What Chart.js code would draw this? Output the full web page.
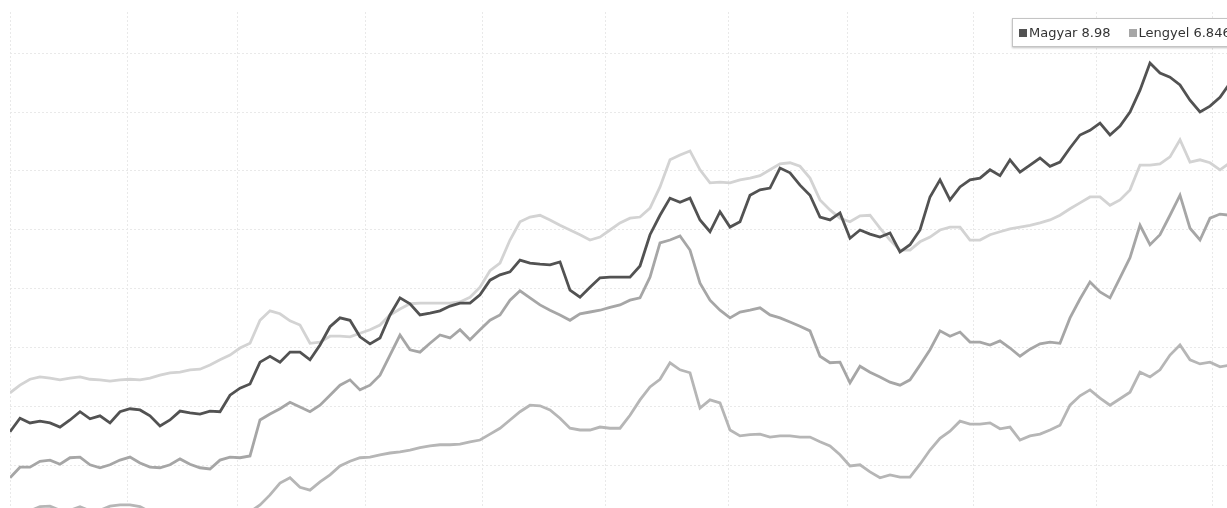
<!DOCTYPE html>
<html>
<head>
<meta charset="utf-8">
<script src="https://cdn.jsdelivr.net/npm/chart.js@4"></script>
<style>
  html, body { margin: 0; padding: 0; background: #fff; overflow: hidden; width: 1227px; height: 508px; }
  #wrap { position: absolute; left: 0; top: 0; width: 1240px; height: 560px; }
  #legend {
    position: absolute; left: 1012px; top: 18px; height: 27px;
    border: 1px solid #c4c4c4; background: #fff; white-space: nowrap;
    box-shadow: 0 1px 2px rgba(0,0,0,0.25);
    font: 13px "DejaVu Sans", sans-serif; color: #333; line-height: 27px;
    padding: 0 6px;
  }
  #legend span.item { margin-right: 18px; }
  #legend i { display: inline-block; width: 8px; height: 8px; margin-right: 2px; vertical-align: 0px; }
</style>
</head>
<body>
<div id="wrap"><canvas id="myChart" width="1240" height="560"></canvas></div>
<div id="legend"></div>
<script>
/**
 *  ! Data
 * **/
const seriesNames = ["Magyar", "Lengyel", "", ""];
const legendValues = ["8.98", "6.846"];
const seriesColors = ["#525252", "#a6a6a6", "#d3d3d3", "#b6b6b6"];

// index of each sample (x axis)
const days = Array.from({ length: 123 }, (_, i) => i);
// vertical grid lines (month starts)
const monthTicks = [0, 11.7, 22.7, 35.5, 47.2, 59.5, 71.8, 83.7, 96.3, 108.6, 120.2];
// horizontal grid lines
const yGrid = [2, 3, 4, 5, 6, 7, 8, 9, 10];

const magyar = [
  3.58, 3.81, 3.73, 3.76, 3.73, 3.66, 3.78, 3.92, 3.80, 3.85,
  3.73, 3.92, 3.97, 3.95, 3.85, 3.68, 3.78, 3.93, 3.90, 3.88,
  3.93, 3.92, 4.20, 4.32, 4.39, 4.76, 4.86, 4.76, 4.93, 4.93,
  4.80, 5.05, 5.36, 5.51, 5.47, 5.19, 5.07, 5.17, 5.56, 5.85,
  5.75, 5.56, 5.59, 5.63, 5.71, 5.76, 5.76, 5.90, 6.15, 6.24,
  6.29, 6.49, 6.44, 6.42, 6.41, 6.46, 5.98, 5.86, 6.03, 6.19,
  6.20, 6.20, 6.20, 6.39, 6.92, 7.25, 7.54, 7.47, 7.54, 7.17,
  6.97, 7.31, 7.05, 7.14, 7.59, 7.68, 7.71, 8.05, 7.97, 7.76,
  7.59, 7.22, 7.17, 7.29, 6.86, 7.00, 6.93, 6.88, 6.95, 6.63,
  6.75, 7.00, 7.56, 7.85, 7.51, 7.73, 7.85, 7.88, 8.02, 7.92,
  8.19, 7.98, 8.10, 8.22, 8.08, 8.15, 8.39, 8.61, 8.69, 8.81,
  8.61, 8.76, 9.00, 9.37, 9.83, 9.66, 9.59, 9.46, 9.20, 9.00,
  9.10, 9.25, 9.49,
];

const lengyel = [
  2.80, 2.98, 2.98, 3.08, 3.10, 3.03, 3.14, 3.15, 3.02, 2.97,
  3.02, 3.10, 3.15, 3.05, 2.98, 2.97, 3.02, 3.12, 3.03, 2.97,
  2.95, 3.10, 3.15, 3.14, 3.17, 3.78, 3.88, 3.97, 4.08, 4.00,
  3.92, 4.03, 4.20, 4.37, 4.46, 4.29, 4.37, 4.54, 4.88, 5.22,
  4.97, 4.93, 5.08, 5.22, 5.17, 5.31, 5.14, 5.31, 5.47, 5.56,
  5.81, 5.97, 5.85, 5.73, 5.64, 5.56, 5.47, 5.58, 5.61, 5.64,
  5.69, 5.73, 5.81, 5.85, 6.20, 6.78, 6.83, 6.90, 6.66, 6.10,
  5.81, 5.64, 5.51, 5.61, 5.64, 5.68, 5.56, 5.51, 5.44, 5.37,
  5.29, 4.86, 4.75, 4.76, 4.41, 4.69, 4.59, 4.51, 4.42, 4.37,
  4.46, 4.71, 4.97, 5.29, 5.20, 5.27, 5.10, 5.10, 5.05, 5.12,
  5.00, 4.86, 4.98, 5.07, 5.10, 5.08, 5.51, 5.83, 6.12, 5.95,
  5.85, 6.19, 6.53, 7.08, 6.75, 6.92, 7.25, 7.59, 7.03, 6.83,
  7.20, 7.27, 7.25,
];

const series3 = [
  4.24, 4.37, 4.47, 4.51, 4.49, 4.46, 4.49, 4.51, 4.47, 4.46,
  4.44, 4.46, 4.47, 4.46, 4.49, 4.54, 4.58, 4.59, 4.63, 4.64,
  4.71, 4.80, 4.88, 5.00, 5.08, 5.47, 5.63, 5.58, 5.46, 5.39,
  5.08, 5.10, 5.20, 5.20, 5.19, 5.25, 5.31, 5.39, 5.56, 5.66,
  5.75, 5.76, 5.76, 5.76, 5.76, 5.78, 5.86, 6.03, 6.31, 6.44,
  6.83, 7.14, 7.22, 7.25, 7.17, 7.08, 7.00, 6.92, 6.83, 6.88,
  7.00, 7.12, 7.20, 7.22, 7.37, 7.73, 8.19, 8.27, 8.34, 8.02,
  7.80, 7.81, 7.80, 7.85, 7.88, 7.92, 8.02, 8.12, 8.14, 8.08,
  7.88, 7.51, 7.34, 7.20, 7.14, 7.24, 7.25, 7.03, 6.83, 6.66,
  6.66, 6.80, 6.88, 7.00, 7.05, 7.05, 6.83, 6.83, 6.92, 6.97,
  7.02, 7.05, 7.08, 7.12, 7.17, 7.25, 7.36, 7.46, 7.56, 7.56,
  7.42, 7.51, 7.68, 8.10, 8.10, 8.12, 8.24, 8.53, 8.15, 8.19,
  8.14, 8.02, 8.14,
];

const series4 = [
  2.17, 2.19, 2.24, 2.31, 2.32, 2.25, 2.25, 2.31, 2.24, 2.25,
  2.32, 2.34, 2.34, 2.31, 2.22, 2.19, 2.20, 2.24, 2.20, 2.17,
  2.15, 2.20, 2.24, 2.22, 2.22, 2.34, 2.51, 2.71, 2.80, 2.64,
  2.59, 2.73, 2.85, 3.00, 3.08, 3.14, 3.15, 3.19, 3.22, 3.24,
  3.27, 3.31, 3.34, 3.36, 3.36, 3.37, 3.41, 3.44, 3.54, 3.64,
  3.78, 3.92, 4.03, 4.02, 3.95, 3.81, 3.64, 3.61, 3.61, 3.66,
  3.64, 3.64, 3.86, 4.12, 4.34, 4.47, 4.75, 4.63, 4.58, 3.98,
  4.12, 4.07, 3.61, 3.51, 3.53, 3.54, 3.49, 3.51, 3.51, 3.49,
  3.49, 3.41, 3.34, 3.19, 3.00, 3.02, 2.90, 2.80, 2.85, 2.81,
  2.81, 3.03, 3.27, 3.47, 3.59, 3.76, 3.71, 3.71, 3.73, 3.63,
  3.66, 3.44, 3.51, 3.54, 3.61, 3.69, 4.03, 4.19, 4.29, 4.15,
  4.03, 4.14, 4.25, 4.59, 4.51, 4.63, 4.88, 5.05, 4.80, 4.73,
  4.76, 4.68, 4.71,
];

const allSeries = [magyar, lengyel, series3, series4];

/**
 *  ! Chart
 * **/
const ctx = document.getElementById("myChart");

new Chart(ctx, {
  type: "line",
  data: {
    labels: days,
    datasets: allSeries.map((values, i) => ({
      label: seriesNames[i],
      data: values,
      borderColor: seriesColors[i],
      backgroundColor: seriesColors[i],
      borderWidth: 2.8,
      pointRadius: 0,
      tension: 0,
    })),
  },
  options: {
    responsive: false,
    animation: false,
    layout: { padding: { left: 10, right: 10, top: 12, bottom: 10 } },
    scales: {
      x: {
        type: "linear",
        min: 0,
        max: 122,
        afterBuildTicks: (scale) => {
          scale.ticks = monthTicks.map((v) => ({ value: v }));
        },
        ticks: { display: false },
        grid: { color: "#e9e9e9", lineWidth: 1, drawTicks: false },
        border: { display: false, dash: [2, 2] },
      },
      y: {
        min: 1.576,
        max: 10.695,
        afterBuildTicks: (scale) => {
          scale.ticks = yGrid.map((v) => ({ value: v }));
        },
        ticks: { display: false },
        grid: { color: "#e9e9e9", lineWidth: 1, drawTicks: false },
        border: { display: false, dash: [2, 2] },
      },
    },
    plugins: {
      legend: { display: false },
      tooltip: { enabled: false },
    },
  },
});

/**
 *  ! Legend
 * **/
const legendBox = document.getElementById("legend");
legendValues.forEach((val, i) => {
  const item = document.createElement("span");
  item.className = "item";
  const sw = document.createElement("i");
  sw.style.background = seriesColors[i];
  item.appendChild(sw);
  item.appendChild(document.createTextNode(seriesNames[i] + " " + val));
  legendBox.appendChild(item);
});
</script>
</body>
</html>
